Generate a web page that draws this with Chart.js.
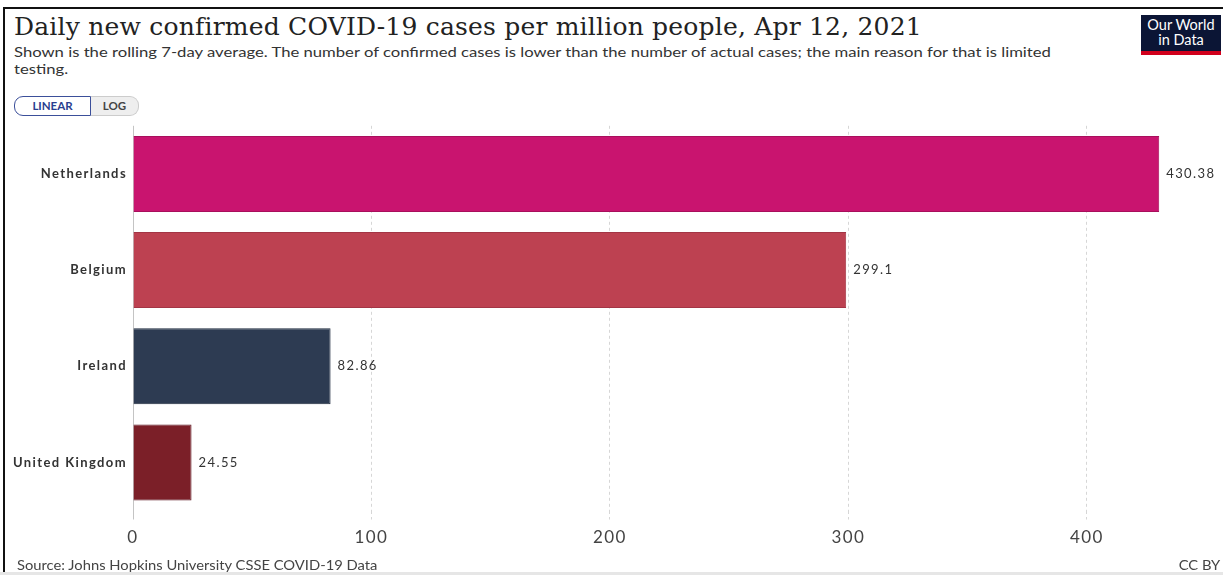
<!DOCTYPE html>
<html>
<head>
<meta charset="utf-8">
<script src="https://cdn.jsdelivr.net/npm/chart.js@4"></script>
<style>
  html, body { margin: 0; padding: 0; background: #fff; }
  body { width: 1223px; height: 575px; position: relative; overflow: hidden; font-family: Lato, "Noto Sans", sans-serif; }
  #frameTop { position: absolute; left: 3px; top: 7px; width: 1220px; height: 2px; background: #111; }
  #frameLeft { position: absolute; left: 3px; top: 7px; width: 2px; height: 568px; background: #111; }
  #frameBottom { position: absolute; left: 0; top: 572px; width: 1223px; height: 3px; background: #e6e6e6; }
  #title { position: absolute; left: 14px; top: 12px; font-family: "DejaVu Serif", serif; font-size: 25px; color: #222; white-space: nowrap; letter-spacing: 0.2px; }
  #subtitle { position: absolute; left: 14px; top: 43px; width: 890px; font-size: 14px; line-height: 17px; color: #333; transform: scaleX(1.19); transform-origin: 0 0; }
  #btns { position: absolute; left: 14px; top: 96px; height: 20px; display: flex; font-size: 11.5px; font-weight: bold; }
  #btnLin { width: 75px; height: 18px; line-height: 18px; text-align: center; color: #2a3f8f; border: 1px solid #3b4f9a; border-radius: 9px 0 0 9px; }
  #btnLog { width: 47px; height: 18px; line-height: 18px; text-align: center; color: #444; background: #eee; border: 1px solid #ccc; border-left: none; border-radius: 0 9px 9px 0; }
  #logo { position: absolute; left: 1141px; top: 15px; width: 80px; height: 34px; background: #0b1535; color: #fff; font-size: 14.5px; line-height: 15px; text-align: center; padding-top: 2px; border-bottom: 4px solid #d1001c; }
  #source { position: absolute; left: 17px; top: 558px; font-size: 12.5px; color: #444; transform: scaleX(1.18); transform-origin: 0 0; }
  #cc { position: absolute; right: 3px; top: 558px; font-size: 12.5px; color: #444; transform: scaleX(1.18); transform-origin: 100% 0; }
  #wrap { position: absolute; left: 0; top: 112px; width: 1223px; height: 448px; }
</style>
</head>
<body>
<div id="frameTop"></div>
<div id="frameLeft"></div>
<div id="frameBottom"></div>
<div id="title">Daily new confirmed COVID-19 cases per million people, Apr 12, 2021</div>
<div id="subtitle">Shown is the rolling 7-day average. The number of confirmed cases is lower than the number of actual cases; the main reason for that is limited testing.</div>
<div id="btns"><div id="btnLin">LINEAR</div><div id="btnLog">LOG</div></div>
<div id="logo">Our World<br>in Data</div>
<div id="wrap"><canvas id="chart"></canvas></div>
<div id="source">Source: Johns Hopkins University CSSE COVID-19 Data</div>
<div id="cc">CC BY</div>

<script>
const countries = ['Netherlands', 'Belgium', 'Ireland', 'United Kingdom'];
const casesPerMillion = [430.38, 299.1, 82.86, 24.55];
const barColors = ['#c9146f', '#bd4151', '#2d3b52', '#7b1f28'];
const barEdges = ['#a80f5c', '#a33545', '#1e2a3d', '#5e1520'];

// the reference text looks horizontally stretched, so widen canvas text a bit
const wideText = {
  id: 'wideText',
  beforeDraw(chart) {
    chart.ctx.letterSpacing = '1.4px';
  }
};

// value text to the right of each bar
const valueLabels = {
  id: 'valueLabels',
  afterDatasetsDraw(chart) {
    const ctx = chart.ctx;
    const meta = chart.getDatasetMeta(0);
    ctx.save();
    ctx.font = '13px Lato';
    ctx.fillStyle = '#333';
    ctx.textBaseline = 'middle';
    ctx.textAlign = 'left';
    meta.data.forEach((bar, i) => {
      ctx.fillText(String(casesPerMillion[i]), bar.x + 7, bar.y);
    });
    ctx.restore();
  }
};

new Chart(document.getElementById('chart'), {
  type: 'bar',
  data: {
    labels: countries,
    datasets: [{
      data: casesPerMillion,
      backgroundColor: barColors,
      borderColor: barEdges,
      borderWidth: 1,
      barPercentage: 0.79,
      categoryPercentage: 1
    }]
  },
  options: {
    indexAxis: 'y',
    responsive: true,
    maintainAspectRatio: false,
    animation: false,
    layout: { padding: { top: 6.5, right: 17, bottom: 0, left: 0 } },
    plugins: { legend: { display: false }, tooltip: { enabled: false } },
    scales: {
      x: {
        min: 0,
        max: 450,
        afterFit: (s) => { s.height = 49.5; },
        ticks: { stepSize: 100, includeBounds: false, padding: 8, color: '#444', font: { family: 'Lato', size: 17 } },
        grid: {
          color: (c) => (c.tick && c.tick.value === 0 ? '#c4c4c4' : '#d6d6d6'),
          lineWidth: 1,
          tickLength: 9,
          tickBorderDash: (c) => (c.tick && c.tick.value === 0 ? [] : [3, 3])
        },
        border: { display: false, dash: (c) => (c.tick && c.tick.value === 0 ? [] : [3, 3]) }
      },
      y: {
        afterFit: (s) => { s.width = 133; },
        ticks: { padding: 6, color: '#333', font: { family: 'Lato', size: 13, weight: 'bold' } },
        grid: { display: false, drawTicks: false },
        border: { display: false }
      }
    }
  },
  plugins: [wideText, valueLabels]
});
</script>
</body>
</html>
